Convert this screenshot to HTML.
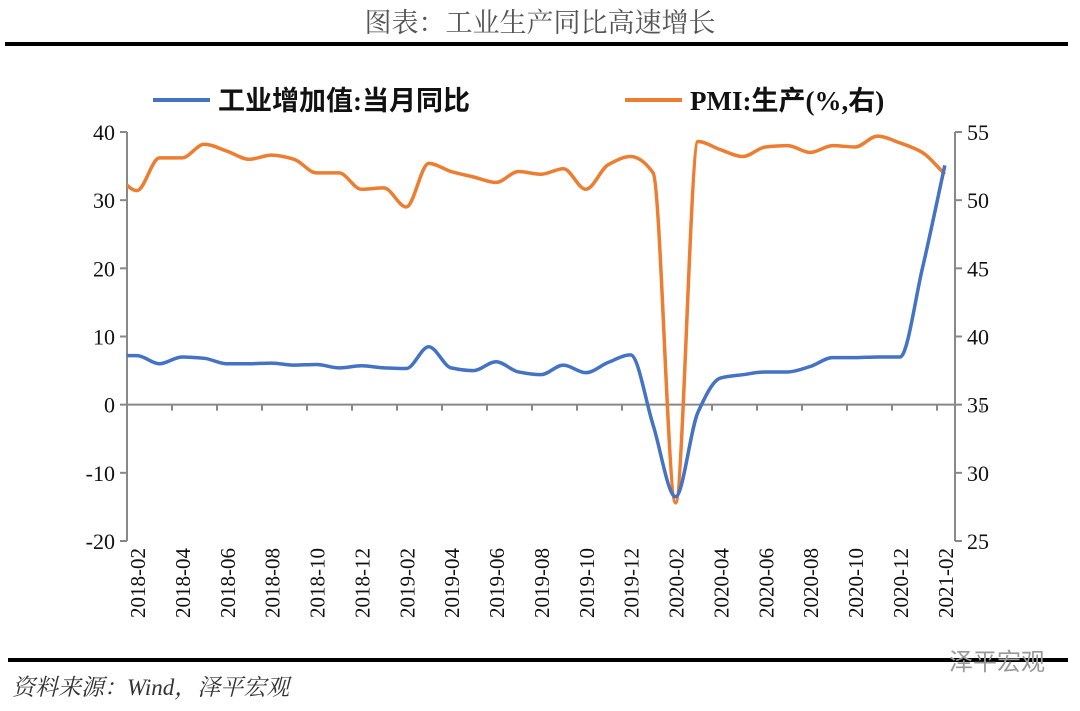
<!DOCTYPE html>
<html><head><meta charset="utf-8"><style>
body{margin:0;background:#fff;width:1080px;height:706px;overflow:hidden;font-family:"Liberation Serif","Noto Serif CJK SC",serif;}
</style></head><body>
<svg width="1080" height="706" xmlns="http://www.w3.org/2000/svg">
<text x="540" y="32" text-anchor="middle" font-size="27" fill="#555" font-family="Liberation Serif, Noto Serif CJK SC, serif">图表：工业生产同比高速增长</text>
<rect x="5" y="42" width="1063" height="4" fill="#000"/>
<g>
<line x1="153" y1="100" x2="210" y2="100" stroke="#4472C4" stroke-width="4"/>
<text x="218" y="110" font-size="27" font-weight="bold" fill="#111" font-family="Liberation Serif, Noto Sans CJK SC, serif">工业增加值:当月同比</text>
<line x1="625" y1="100" x2="682" y2="100" stroke="#ED7D31" stroke-width="4"/>
<text x="690" y="110" font-size="27" font-weight="bold" fill="#111" font-family="Liberation Serif, Noto Sans CJK SC, serif">PMI:生产(%,右)</text>
</g>
<g id="axes"></g>
<g id="series"></g>
<rect x="8" y="658" width="1060" height="4" fill="#000"/>
<text x="12" y="695" font-size="23" font-style="italic" fill="#333" font-family="Liberation Serif, Noto Serif CJK SC, serif">资料来源：Wind，泽平宏观</text>
<text x="1045" y="670" text-anchor="end" font-size="24" fill="#999" font-family="Noto Sans CJK SC, sans-serif">泽平宏观</text>
</svg>
<script>
const months = ["2018-02","2018-03","2018-04","2018-05","2018-06","2018-07","2018-08","2018-09","2018-10","2018-11","2018-12","2019-01","2019-02","2019-03","2019-04","2019-05","2019-06","2019-07","2019-08","2019-09","2019-10","2019-11","2019-12","2020-01","2020-02","2020-03","2020-04","2020-05","2020-06","2020-07","2020-08","2020-09","2020-10","2020-11","2020-12","2021-01","2021-02"];
const ivaValues = [7.2,6.0,7.0,6.8,6.0,6.0,6.1,5.8,5.9,5.4,5.7,5.4,5.3,8.5,5.4,5.0,6.3,4.8,4.4,5.8,4.7,6.2,7.3,-3.0,-13.5,-1.1,3.9,4.4,4.8,4.8,5.6,6.9,6.9,7.0,7.0,20.0,35.1];
const pmiPrev = 52.0;
const pmiValues = [50.7,53.1,53.1,54.1,53.6,53.0,53.3,53.0,52.0,52.0,50.8,50.9,49.5,52.7,52.1,51.7,51.3,52.1,51.9,52.3,50.8,52.6,53.2,52.0,27.8,54.3,53.7,53.2,53.9,54.0,53.5,54.0,53.9,54.7,54.2,53.5,51.9];
const leftTicks = [40,30,20,10,0,-10,-20];
const rightTicks = [55,50,45,40,35,30,25];
const X0=127,X1=955,YT=132,YB=541;
const xm = i => 137 + i*22.44;
const yl = v => YT + (40-v)*(YB-YT)/60;
const yr = v => YT + (55-v)*(YB-YT)/30;
const NS="http://www.w3.org/2000/svg";
function mk(tag,attrs,parent){const e=document.createElementNS(NS,tag);for(const k in attrs)e.setAttribute(k,attrs[k]);parent.appendChild(e);return e;}
const ax=document.getElementById('axes'), se=document.getElementById('series');
const gray="#888";
let l=mk('line',{x1:X0,y1:YT,x2:X0,y2:YB,stroke:gray,'stroke-width':2},ax);


l=mk('line',{x1:X1,y1:YT,x2:X1,y2:YB,stroke:gray,'stroke-width':2},ax);


l=mk('line',{x1:X0,y1:yl(0),x2:X1,y2:yl(0),stroke:gray,'stroke-width':2},ax);


leftTicks.forEach(v=>{
 const y=yl(v);
 const t=mk('line',{x1:X0-7,y1:y,x2:X0,y2:y,stroke:gray,'stroke-width':2},ax);
 
 
 const tx=mk('text',{x:X0-12,y:y+8,'text-anchor':'end','font-size':22,fill:'#111'},ax);
 tx.textContent=v;
 
 
});
rightTicks.forEach(v=>{
 const y=yr(v);
 const t=mk('line',{x1:X1,y1:y,x2:X1+7,y2:y,stroke:gray,'stroke-width':2},ax);
 
 
 const tx=mk('text',{x:X1+12,y:y+8,'font-size':22,fill:'#111'},ax);
 tx.textContent=v;
 
 
});
months.forEach((m,i)=>{
 if(i%2) return;
 const k=i/2;
 const tk=mk('line',{x1:X0+45*(k+1),y1:yl(0),x2:X0+45*(k+1),y2:yl(0)+6,stroke:gray,'stroke-width':2},ax);
 
 
 const x=xm(i)+8;
 const tx=mk('text',{x:x,y:548,'text-anchor':'end','font-size':21,fill:'#111',transform:`rotate(-90 ${x} 548)`},ax);
 tx.textContent=m;
 
 
});
// monotone cubic interpolation (no overshoot)
function smooth(pts){
 const n=pts.length, d=[], m=[];
 for(let i=0;i<n-1;i++) d.push((pts[i+1][1]-pts[i][1])/(pts[i+1][0]-pts[i][0]));
 m[0]=d[0]; m[n-1]=d[n-2];
 for(let i=1;i<n-1;i++) m[i]=(d[i-1]*d[i]<=0)?0:2/(1/d[i-1]+1/d[i]);
 let s=`M${pts[0][0]},${pts[0][1]}`;
 for(let i=0;i<n-1;i++){
  const h=(pts[i+1][0]-pts[i][0])/3;
  s+=` C${pts[i][0]+h},${pts[i][1]+m[i]*h} ${pts[i+1][0]-h},${pts[i+1][1]-m[i+1]*h} ${pts[i+1][0]},${pts[i+1][1]}`;
 }
 return s;
}
mk('clipPath',{id:'clip'},se).appendChild(document.createElementNS(NS,'rect'));
const cr=se.querySelector('#clip rect');cr.setAttribute('x',X0);cr.setAttribute('y',0);cr.setAttribute('width',X1-X0);cr.setAttribute('height',706);
const pPts=[[xm(-1),yr(pmiPrev)]].concat(pmiValues.map((v,i)=>[xm(i),yr(v)]));
let p=mk('path',{d:smooth(pPts),fill:'none',stroke:'#ED7D31','stroke-width':3.5,'clip-path':'url(#clip)'},se);


const bPts=[[X0,yl(ivaValues[0])]].concat(ivaValues.map((v,i)=>[xm(i),yl(v)]));
p=mk('path',{d:smooth(bPts),fill:'none',stroke:'#4472C4','stroke-width':3.5},se);


</script>
</body></html>
